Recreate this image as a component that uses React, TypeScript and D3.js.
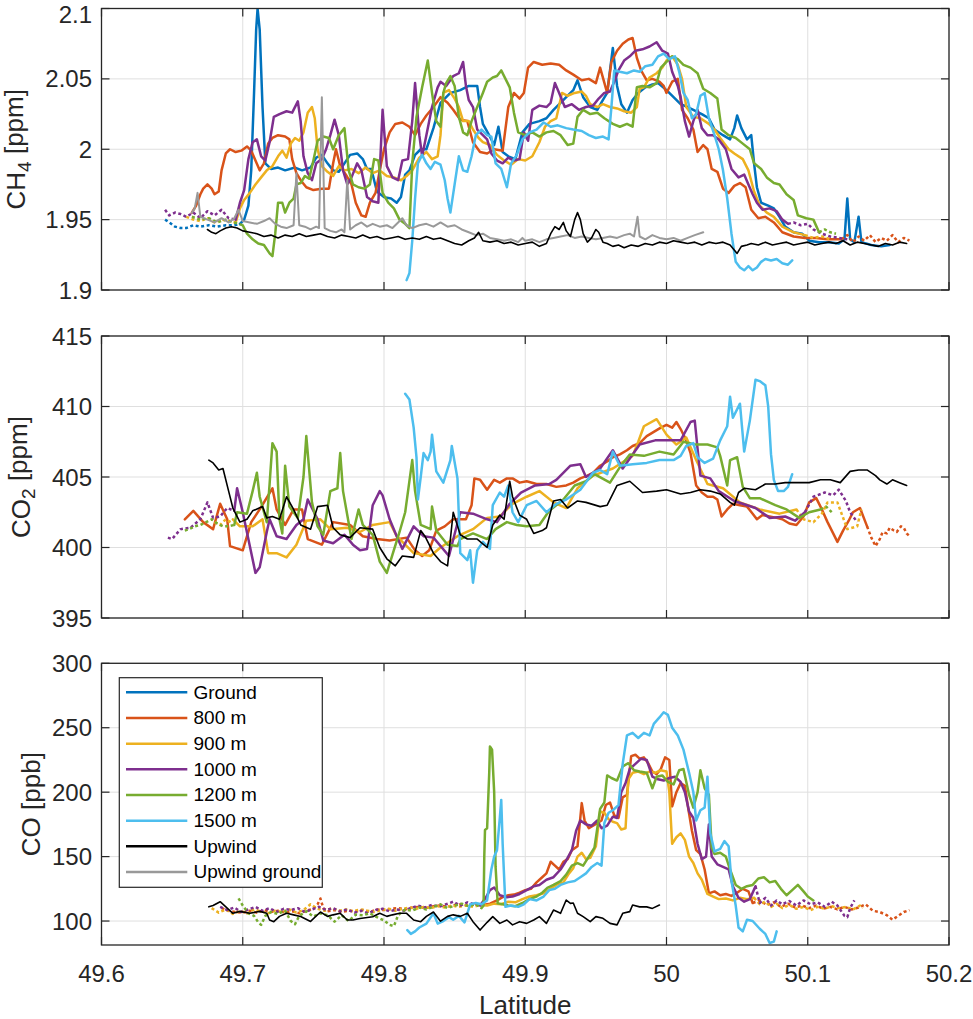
import React from 'react';
import * as d3 from 'd3';

type Pt = [number, number];

const FONT = '"Liberation Sans", Arial, Helvetica, sans-serif';
const INK = '#262626';

const seriesNames = ['Ground', '800 m', '900 m', '1000 m', '1200 m', '1500 m', 'Upwind', 'Upwind ground'];
const seriesColors = ['#0072BD', '#D95319', '#EDB120', '#7E2F8E', '#77AC30', '#4DBEEE', '#000000', '#999999'];

const latTicks = [49.6, 49.7, 49.8, 49.9, 50, 50.1, 50.2];
const ch4Ticks = [1.9, 1.95, 2, 2.05, 2.1];
const co2Ticks = [395, 400, 405, 410, 415];
const coTicks = [100, 150, 200, 250, 300];

// ---------------- CH4 [ppm] ----------------
const ch4GroundDot: Pt[] = [[49.645,1.950],[49.648,1.948],[49.652,1.945],[49.656,1.944],[49.660,1.944],[49.665,1.946],[49.670,1.945],[49.676,1.946],[49.682,1.945],[49.688,1.946],[49.694,1.946],[49.698,1.947]];
const ch4Ground: Pt[] = [[49.698,1.947],[49.701,1.950],[49.704,1.960],[49.706,1.985],[49.708,2.040],[49.7095,2.085],[49.7105,2.100],[49.712,2.085],[49.714,2.030],[49.716,1.990],[49.720,1.986],[49.725,1.987],[49.730,1.985],[49.737,1.987],[49.742,1.985],[49.748,1.987],[49.752,1.994],[49.756,1.996],[49.760,1.990],[49.764,1.985],[49.768,1.984],[49.772,1.990],[49.776,1.996],[49.781,1.997],[49.785,1.993],[49.788,1.986],[49.791,1.986],[49.795,1.970],[49.800,1.966],[49.805,1.965],[49.809,1.962],[49.812,1.966],[49.815,1.982],[49.818,1.985],[49.822,1.996],[49.826,2.000],[49.830,2.000],[49.835,2.015],[49.840,2.033],[49.847,2.040],[49.854,2.042],[49.860,2.045],[49.866,2.045],[49.868,2.030],[49.870,2.018],[49.875,2.009],[49.878,2.003],[49.881,2.016],[49.884,1.998],[49.888,1.995],[49.893,1.993],[49.898,2.012],[49.903,2.018],[49.910,2.020],[49.915,2.022],[49.920,2.028],[49.925,2.033],[49.929,2.037],[49.934,2.042],[49.937,2.049],[49.941,2.037],[49.946,2.030],[49.951,2.028],[49.955,2.035],[49.958,2.040],[49.962,2.072],[49.965,2.045],[49.968,2.032],[49.972,2.026],[49.976,2.035],[49.980,2.040],[49.985,2.044],[49.990,2.046],[49.994,2.047],[50.000,2.042],[50.005,2.037],[50.010,2.032],[50.015,2.030],[50.019,2.028],[50.025,2.025],[50.030,2.022],[50.034,2.014],[50.040,2.010],[50.045,2.007],[50.048,2.015],[50.050,2.024],[50.053,2.015],[50.057,2.007],[50.060,2.010],[50.062,1.990],[50.064,1.973],[50.067,1.962],[50.072,1.960],[50.076,1.958],[50.080,1.952],[50.084,1.945],[50.090,1.941],[50.096,1.940],[50.101,1.935],[50.108,1.934],[50.115,1.934],[50.122,1.933],[50.126,1.936],[50.128,1.965],[50.130,1.936],[50.133,1.934],[50.136,1.952],[50.138,1.934],[50.145,1.932],[50.152,1.931],[50.158,1.932]];
const ch4M800: Pt[] = [[49.664,1.955],[49.667,1.960],[49.670,1.968],[49.672,1.972],[49.675,1.975],[49.678,1.972],[49.680,1.968],[49.683,1.970],[49.685,1.985],[49.688,1.997],[49.691,2.000],[49.695,1.998],[49.699,1.999],[49.703,2.002],[49.706,1.999],[49.709,1.992],[49.712,1.985],[49.715,1.990],[49.718,2.004],[49.721,2.008],[49.725,2.010],[49.730,2.009],[49.733,2.007],[49.735,1.993],[49.738,1.983],[49.741,1.978],[49.745,1.973],[49.750,1.971],[49.756,1.972],[49.761,1.972],[49.764,1.990],[49.766,2.000],[49.769,1.988],[49.773,1.982],[49.777,1.975],[49.780,1.962],[49.784,1.953],[49.787,1.952],[49.790,1.962],[49.794,1.969],[49.797,1.985],[49.800,2.000],[49.804,2.012],[49.808,2.018],[49.813,2.019],[49.818,2.016],[49.822,2.010],[49.826,2.018],[49.830,2.024],[49.835,2.030],[49.840,2.037],[49.845,2.033],[49.849,2.028],[49.854,2.021],[49.859,2.020],[49.863,2.005],[49.868,1.998],[49.873,1.997],[49.878,2.000],[49.884,1.999],[49.888,2.030],[49.892,2.040],[49.896,2.036],[49.899,2.040],[49.902,2.058],[49.906,2.062],[49.912,2.060],[49.918,2.061],[49.924,2.060],[49.929,2.056],[49.934,2.053],[49.940,2.049],[49.945,2.050],[49.950,2.047],[49.953,2.058],[49.958,2.040],[49.961,2.062],[49.965,2.070],[49.969,2.075],[49.973,2.078],[49.976,2.079],[49.979,2.065],[49.982,2.056],[49.986,2.049],[49.990,2.050],[49.995,2.048],[49.998,2.045],[50.000,2.040],[50.004,2.048],[50.008,2.050],[50.011,2.028],[50.015,2.022],[50.019,2.014],[50.022,1.998],[50.026,2.003],[50.029,2.000],[50.032,1.986],[50.036,1.984],[50.040,1.972],[50.044,1.969],[50.048,1.974],[50.052,1.976],[50.056,1.973],[50.060,1.957],[50.065,1.951],[50.070,1.952],[50.076,1.948],[50.082,1.941],[50.090,1.938],[50.098,1.937],[50.106,1.937],[50.114,1.936],[50.124,1.936]];
const ch4M800Dot: Pt[] = [[50.124,1.936],[50.128,1.939],[50.132,1.934],[50.136,1.938],[50.140,1.935],[50.144,1.939],[50.148,1.934],[50.152,1.937],[50.156,1.935],[50.160,1.939],[50.164,1.934],[50.168,1.937],[50.172,1.935]];
const ch4M900Dot: Pt[] = [[49.660,1.952],[49.665,1.950],[49.670,1.949],[49.675,1.951],[49.680,1.948],[49.685,1.950],[49.690,1.949],[49.695,1.948]];
const ch4M900: Pt[] = [[49.695,1.948],[49.698,1.958],[49.701,1.964],[49.705,1.969],[49.709,1.975],[49.713,1.980],[49.717,1.985],[49.721,1.988],[49.725,1.995],[49.728,1.999],[49.731,1.994],[49.734,2.004],[49.737,2.008],[49.740,2.006],[49.743,2.012],[49.746,2.026],[49.749,2.030],[49.751,2.022],[49.753,2.000],[49.756,1.988],[49.760,1.984],[49.764,1.981],[49.768,1.988],[49.772,1.985],[49.777,1.986],[49.782,1.983],[49.787,1.987],[49.792,1.983],[49.797,1.985],[49.802,1.981],[49.807,1.980],[49.812,1.978],[49.816,1.981],[49.820,1.985],[49.825,1.994],[49.830,1.998],[49.834,1.993],[49.838,1.995],[49.840,2.010],[49.842,2.040],[49.846,2.042],[49.850,2.036],[49.853,2.030],[49.856,2.020],[49.860,2.020],[49.863,2.014],[49.867,2.008],[49.870,2.005],[49.875,2.003],[49.880,1.996],[49.885,1.992],[49.890,1.989],[49.895,1.993],[49.900,1.992],[49.905,1.995],[49.910,2.005],[49.914,2.016],[49.918,2.020],[49.922,2.022],[49.926,2.040],[49.930,2.038],[49.935,2.040],[49.940,2.041],[49.943,2.038],[49.946,2.032],[49.951,2.030],[49.955,2.032],[49.960,2.030],[49.965,2.029],[49.970,2.027],[49.975,2.026],[49.979,2.030],[49.981,2.043],[49.984,2.044],[49.988,2.051],[49.993,2.054],[49.997,2.058],[50.000,2.063],[50.004,2.066],[50.008,2.060],[50.011,2.050],[50.014,2.030],[50.019,2.023],[50.024,2.022],[50.030,2.018],[50.034,2.014],[50.038,2.008],[50.044,2.000],[50.048,1.997],[50.054,1.993],[50.058,1.985],[50.062,1.970],[50.066,1.960],[50.071,1.955],[50.076,1.952],[50.082,1.945],[50.090,1.941],[50.098,1.939]];
const ch4M900Dot2: Pt[] = [[50.098,1.939],[50.104,1.937],[50.110,1.938],[50.116,1.936]];
const ch4M1000Dot: Pt[] = [[49.645,1.957],[49.648,1.953],[49.652,1.955],[49.656,1.954],[49.660,1.952],[49.665,1.955],[49.670,1.951],[49.675,1.956],[49.680,1.953],[49.685,1.957],[49.690,1.951],[49.695,1.950]];
const ch4M1000: Pt[] = [[49.695,1.950],[49.698,1.962],[49.701,1.971],[49.704,1.993],[49.707,2.005],[49.710,2.007],[49.713,1.995],[49.716,1.992],[49.719,2.005],[49.722,2.023],[49.726,2.025],[49.731,2.027],[49.735,2.026],[49.739,2.034],[49.741,2.020],[49.743,1.995],[49.746,1.983],[49.749,1.978],[49.752,1.990],[49.756,1.993],[49.759,2.000],[49.762,2.010],[49.765,2.021],[49.768,2.010],[49.771,1.985],[49.774,1.975],[49.777,1.980],[49.781,1.990],[49.784,1.985],[49.788,1.966],[49.792,1.963],[49.796,1.962],[49.799,2.028],[49.802,1.988],[49.806,1.980],[49.810,1.978],[49.813,1.992],[49.817,1.993],[49.820,2.020],[49.822,2.047],[49.825,2.010],[49.827,1.995],[49.830,2.010],[49.834,2.030],[49.838,2.044],[49.840,2.048],[49.844,2.045],[49.849,2.052],[49.853,2.054],[49.856,2.062],[49.858,2.045],[49.860,2.035],[49.863,2.030],[49.866,2.014],[49.870,2.010],[49.873,2.007],[49.876,1.997],[49.880,1.992],[49.884,1.990],[49.888,1.994],[49.892,1.992],[49.896,1.993],[49.899,2.012],[49.902,2.006],[49.905,2.028],[49.910,2.031],[49.915,2.030],[49.918,2.033],[49.921,2.047],[49.924,2.040],[49.928,2.030],[49.933,2.032],[49.938,2.028],[49.943,2.030],[49.948,2.031],[49.952,2.036],[49.956,2.040],[49.960,2.041],[49.963,2.048],[49.966,2.056],[49.970,2.063],[49.974,2.066],[49.978,2.070],[49.983,2.071],[49.988,2.073],[49.993,2.076],[49.997,2.070],[50.001,2.068],[50.004,2.055],[50.008,2.045],[50.010,2.037],[50.013,2.020],[50.016,2.009],[50.019,2.020],[50.022,2.028],[50.025,2.015],[50.029,2.010],[50.033,2.010],[50.037,2.007],[50.042,2.000],[50.046,1.986],[50.051,1.980],[50.055,1.982],[50.058,1.975],[50.061,1.968],[50.064,1.962],[50.068,1.957],[50.073,1.958],[50.078,1.956],[50.082,1.950],[50.086,1.947]];
const ch4M1000Dot2: Pt[] = [[50.086,1.947],[50.090,1.948],[50.095,1.946],[50.100,1.947],[50.104,1.943],[50.110,1.940],[50.116,1.938],[50.122,1.937],[50.128,1.936]];
const ch4M1200Dot: Pt[] = [[49.664,1.952],[49.670,1.950],[49.676,1.951],[49.682,1.948],[49.688,1.950],[49.694,1.948],[49.700,1.946]];
const ch4M1200: Pt[] = [[49.700,1.946],[49.703,1.940],[49.707,1.936],[49.711,1.933],[49.715,1.932],[49.719,1.926],[49.721,1.924],[49.723,1.940],[49.725,1.962],[49.728,1.962],[49.730,1.955],[49.733,1.962],[49.736,1.965],[49.738,1.975],[49.741,1.976],[49.744,1.981],[49.747,1.979],[49.750,1.992],[49.753,2.006],[49.757,2.009],[49.761,2.008],[49.764,2.000],[49.768,2.010],[49.772,2.015],[49.775,1.985],[49.778,1.975],[49.782,1.973],[49.786,1.972],[49.790,1.975],[49.793,1.993],[49.796,1.992],[49.799,1.969],[49.803,1.962],[49.807,1.958],[49.811,1.950],[49.815,1.947],[49.818,1.944],[49.820,1.990],[49.823,2.023],[49.827,2.044],[49.831,2.063],[49.834,2.040],[49.837,2.020],[49.840,2.016],[49.842,2.040],[49.844,2.047],[49.847,2.052],[49.850,2.045],[49.853,2.023],[49.856,2.012],[49.859,2.010],[49.862,2.020],[49.866,2.030],[49.870,2.040],[49.873,2.048],[49.877,2.051],[49.880,2.052],[49.883,2.056],[49.886,2.050],[49.889,2.044],[49.892,2.026],[49.895,2.012],[49.900,2.010],[49.905,2.012],[49.910,2.009],[49.915,2.012],[49.920,2.013],[49.925,2.010],[49.930,2.003],[49.934,2.004],[49.937,2.023],[49.941,2.028],[49.946,2.025],[49.951,2.026],[49.956,2.022],[49.962,2.018],[49.967,2.016],[49.972,2.018],[49.976,2.016],[49.979,2.044],[49.983,2.045],[49.988,2.044],[49.993,2.047],[49.996,2.058],[50.000,2.062],[50.004,2.066],[50.008,2.064],[50.012,2.060],[50.017,2.058],[50.022,2.054],[50.026,2.043],[50.031,2.040],[50.036,2.036],[50.039,2.014],[50.044,2.010],[50.049,2.008],[50.054,2.004],[50.059,2.000],[50.062,1.990],[50.067,1.986],[50.071,1.980],[50.076,1.976],[50.080,1.975],[50.085,1.968],[50.090,1.964],[50.093,1.953],[50.099,1.951],[50.104,1.950],[50.108,1.941]];
const ch4M1200Dot2: Pt[] = [[50.108,1.941],[50.112,1.943],[50.116,1.941],[50.120,1.940]];
const ch4M1500: Pt[] = [[49.816,1.907],[49.818,1.912],[49.820,1.935],[49.822,1.965],[49.824,1.990],[49.827,1.996],[49.830,1.990],[49.833,1.986],[49.836,1.991],[49.840,1.989],[49.843,1.978],[49.845,1.965],[49.847,1.955],[49.850,1.975],[49.853,1.995],[49.856,1.985],[49.859,1.984],[49.862,1.995],[49.865,2.010],[49.869,2.014],[49.873,2.010],[49.876,2.009],[49.879,1.990],[49.883,1.986],[49.887,1.973],[49.890,1.990],[49.894,1.996],[49.898,2.007],[49.903,2.012],[49.908,2.014],[49.913,2.019],[49.918,2.016],[49.923,2.017],[49.929,2.015],[49.934,2.014],[49.940,2.013],[49.945,2.010],[49.950,2.008],[49.955,2.009],[49.959,2.007],[49.961,2.030],[49.963,2.056],[49.967,2.055],[49.972,2.054],[49.977,2.056],[49.981,2.055],[49.985,2.059],[49.990,2.060],[49.994,2.066],[49.998,2.068],[50.002,2.064],[50.006,2.066],[50.009,2.055],[50.012,2.040],[50.015,2.035],[50.018,2.022],[50.021,2.025],[50.024,2.038],[50.027,2.040],[50.030,2.022],[50.034,2.010],[50.037,2.000],[50.040,1.985],[50.043,1.965],[50.046,1.940],[50.049,1.920],[50.052,1.916],[50.055,1.914],[50.058,1.917],[50.061,1.914],[50.064,1.916],[50.067,1.920],[50.070,1.922],[50.074,1.921],[50.078,1.922],[50.082,1.919],[50.086,1.918],[50.089,1.921]];
const ch4Upwind: Pt[] = [[49.675,1.943],[49.678,1.941],[49.681,1.940],[49.684,1.942],[49.688,1.944],[49.692,1.945],[49.696,1.944],[49.700,1.942],[49.705,1.941],[49.710,1.940],[49.715,1.938],[49.720,1.939],[49.725,1.937],[49.730,1.939],[49.735,1.938],[49.740,1.940],[49.745,1.938],[49.750,1.939],[49.755,1.940],[49.760,1.938],[49.765,1.937],[49.770,1.939],[49.775,1.938],[49.780,1.937],[49.785,1.939],[49.790,1.937],[49.795,1.938],[49.800,1.936],[49.805,1.937],[49.810,1.938],[49.815,1.936],[49.820,1.937],[49.825,1.936],[49.830,1.938],[49.835,1.936],[49.840,1.937],[49.845,1.935],[49.850,1.933],[49.855,1.932],[49.860,1.935],[49.864,1.937],[49.867,1.941],[49.870,1.935],[49.875,1.934],[49.880,1.935],[49.885,1.933],[49.890,1.934],[49.895,1.932],[49.900,1.933],[49.905,1.934],[49.910,1.931],[49.915,1.933],[49.918,1.940],[49.921,1.945],[49.924,1.943],[49.927,1.948],[49.929,1.942],[49.932,1.938],[49.935,1.950],[49.937,1.955],[49.939,1.950],[49.941,1.940],[49.944,1.934],[49.947,1.937],[49.950,1.943],[49.952,1.941],[49.955,1.934],[49.958,1.933],[49.962,1.931],[49.966,1.932],[49.970,1.930],[49.975,1.932],[49.980,1.931],[49.985,1.933],[49.990,1.932],[49.995,1.934],[50.000,1.933],[50.005,1.935],[50.010,1.934],[50.015,1.933],[50.020,1.934],[50.025,1.932],[50.030,1.934],[50.035,1.933],[50.040,1.934],[50.045,1.932],[50.050,1.926],[50.053,1.931],[50.057,1.932],[50.060,1.933],[50.065,1.932],[50.070,1.934],[50.075,1.932],[50.080,1.933],[50.085,1.934],[50.090,1.932],[50.095,1.933],[50.100,1.934],[50.105,1.932],[50.110,1.933],[50.115,1.934],[50.120,1.933],[50.125,1.935],[50.130,1.932],[50.135,1.934],[50.140,1.933],[50.145,1.932],[50.150,1.931],[50.155,1.933],[50.160,1.932],[50.165,1.934],[50.170,1.933]];
const ch4UpwindGround: Pt[] = [[49.664,1.955],[49.666,1.958],[49.668,1.969],[49.670,1.952],[49.675,1.950],[49.680,1.948],[49.685,1.951],[49.690,1.948],[49.694,1.951],[49.697,1.957],[49.700,1.949],[49.705,1.948],[49.710,1.947],[49.715,1.949],[49.719,1.951],[49.723,1.947],[49.727,1.945],[49.731,1.944],[49.736,1.946],[49.738,1.983],[49.740,1.946],[49.744,1.945],[49.748,1.943],[49.752,1.945],[49.754,1.944],[49.756,2.037],[49.758,1.944],[49.762,1.942],[49.766,1.941],[49.770,1.943],[49.772,1.941],[49.774,1.978],[49.776,1.943],[49.780,1.946],[49.784,1.948],[49.788,1.945],[49.792,1.947],[49.797,1.945],[49.802,1.946],[49.806,1.944],[49.810,1.948],[49.813,1.951],[49.816,1.946],[49.820,1.944],[49.825,1.946],[49.830,1.947],[49.835,1.945],[49.840,1.948],[49.845,1.945],[49.850,1.946],[49.855,1.943],[49.860,1.941],[49.865,1.939],[49.870,1.940],[49.875,1.937],[49.880,1.936],[49.885,1.935],[49.890,1.936],[49.895,1.934],[49.898,1.937],[49.900,1.935],[49.905,1.936],[49.910,1.934],[49.915,1.936],[49.920,1.937],[49.925,1.938],[49.930,1.939],[49.935,1.937],[49.940,1.938],[49.945,1.937],[49.950,1.936],[49.955,1.937],[49.960,1.938],[49.965,1.937],[49.970,1.939],[49.974,1.940],[49.977,1.938],[49.9795,1.952],[49.981,1.938],[49.985,1.936],[49.990,1.939],[49.995,1.937],[50.000,1.936],[50.005,1.937],[50.010,1.935],[50.015,1.937],[50.020,1.939],[50.026,1.941]];

// ---------------- CO2 [ppm] ----------------
const co2M800: Pt[] = [[49.659,402.0],[49.665,402.6],[49.672,401.8],[49.679,401.3],[49.684,403.1],[49.689,402.0],[49.691,400.1],[49.700,399.8],[49.706,401.8],[49.712,402.7],[49.721,404.2],[49.724,402.7],[49.730,401.6],[49.736,402.7],[49.742,402.7],[49.746,400.6],[49.756,400.2],[49.764,401.8],[49.776,401.6],[49.785,400.8],[49.795,400.6],[49.804,400.5],[49.816,400.7],[49.822,399.8],[49.827,399.4],[49.832,399.8],[49.837,401.2],[49.843,401.5],[49.849,402.0],[49.858,402.0],[49.862,403.0],[49.864,404.9],[49.868,404.8],[49.873,404.1],[49.878,404.8],[49.882,404.6],[49.887,404.9],[49.891,404.9],[49.896,404.6],[49.901,404.7],[49.908,404.5],[49.915,404.5],[49.922,404.3],[49.929,404.4],[49.934,404.6],[49.939,404.9],[49.944,405.1],[49.948,405.3],[49.953,405.8],[49.958,406.1],[49.962,406.4],[49.967,406.6],[49.972,406.9],[49.976,407.2],[49.981,407.4],[49.986,407.9],[49.991,408.2],[49.996,408.5],[50.000,408.7],[50.004,408.5],[50.007,408.9],[50.010,408.4],[50.014,407.6],[50.017,406.7],[50.021,404.4],[50.025,403.9],[50.029,403.6],[50.033,403.6],[50.036,403.4],[50.039,402.2],[50.043,402.7],[50.047,403.1],[50.052,403.0],[50.057,402.9],[50.061,402.4],[50.064,402.0],[50.068,402.3],[50.073,402.2],[50.078,402.1],[50.082,402.0],[50.087,401.7],[50.092,401.6],[50.097,402.2],[50.101,403.2],[50.106,403.5],[50.110,402.7],[50.114,401.8],[50.118,401.0],[50.121,400.4],[50.125,401.2],[50.129,401.9],[50.132,402.5],[50.137,402.8],[50.142,401.5]];
const co2M800Dot: Pt[] = [[50.142,401.5],[50.145,400.7],[50.148,400.1],[50.151,400.6],[50.153,401.1],[50.156,401.0],[50.158,401.4],[50.161,401.2],[50.163,401.1],[50.166,401.5],[50.168,401.4],[50.170,401.0],[50.172,400.8]];
const co2M900Dot: Pt[] = [[49.680,401.8],[49.684,401.6],[49.688,402.0],[49.693,401.7]];
const co2M900: Pt[] = [[49.693,402.0],[49.698,401.5],[49.707,401.5],[49.714,402.0],[49.718,399.6],[49.724,399.6],[49.731,399.3],[49.738,400.2],[49.745,401.9],[49.755,402.0],[49.762,401.3],[49.774,401.4],[49.783,401.1],[49.792,401.6],[49.804,401.8],[49.809,400.8],[49.821,399.6],[49.833,399.4],[49.840,400.0],[49.852,400.8],[49.863,401.3],[49.873,402.1],[49.882,402.2],[49.891,403.1],[49.901,403.6],[49.910,404.0],[49.920,403.2],[49.929,402.8],[49.937,404.2],[49.948,405.1],[49.962,405.6],[49.976,406.5],[49.980,407.5],[49.984,408.6],[49.993,409.1],[50.000,408.0],[50.007,407.3],[50.014,407.8],[50.021,406.2],[50.029,404.5],[50.040,404.2],[50.052,403.2],[50.066,402.7],[50.080,402.4],[50.092,402.7]];
const co2M900Dot2: Pt[] = [[50.092,402.7],[50.097,402.0],[50.104,401.8],[50.110,402.4],[50.114,403.2],[50.121,403.2],[50.128,401.3],[50.135,401.5],[50.138,402.7]];
const co2M1000Dot: Pt[] = [[49.647,400.7],[49.650,400.6],[49.656,401.3],[49.663,401.4],[49.670,402.0],[49.675,403.2],[49.679,402.1],[49.684,402.2],[49.689,402.8],[49.694,402.6]];
const co2M1000: Pt[] = [[49.694,402.6],[49.696,404.2],[49.700,402.5],[49.705,400.1],[49.709,398.2],[49.712,398.6],[49.717,401.1],[49.719,402.0],[49.724,400.8],[49.731,400.6],[49.738,401.6],[49.743,402.0],[49.746,403.4],[49.753,402.0],[49.757,400.5],[49.764,400.3],[49.772,400.9],[49.778,400.2],[49.783,399.8],[49.788,399.9],[49.792,403.0],[49.797,404.0],[49.799,403.7],[49.804,402.0],[49.809,400.8],[49.813,399.9],[49.821,401.5],[49.828,400.8],[49.835,400.7],[49.846,399.4],[49.854,402.5],[49.863,402.4],[49.873,402.0],[49.880,401.8],[49.889,403.1],[49.897,403.9],[49.907,404.4],[49.917,404.5],[49.922,404.8],[49.932,405.8],[49.939,405.9],[49.943,405.0],[49.953,405.6],[49.962,406.9],[49.969,405.6],[49.981,407.3],[49.992,407.6],[50.000,407.6],[50.010,407.6],[50.017,408.9],[50.020,409.0],[50.022,407.0],[50.024,405.1],[50.031,404.9],[50.037,404.0],[50.048,403.3],[50.063,402.8],[50.073,402.1],[50.084,402.2],[50.091,401.9],[50.098,402.5]];
const co2M1000Dot2: Pt[] = [[50.098,402.5],[50.104,403.6],[50.112,403.9],[50.118,403.7],[50.122,404.1],[50.127,403.3],[50.130,402.5],[50.135,401.8]];
const co2M1200Dot: Pt[] = [[49.659,401.2],[49.662,401.3],[49.666,401.5],[49.670,401.6],[49.674,401.8],[49.678,402.0],[49.682,401.7],[49.686,401.5],[49.690,401.5],[49.694,401.6]];
const co2M1200: Pt[] = [[49.694,401.6],[49.696,402.5],[49.703,402.4],[49.707,404.0],[49.710,405.3],[49.712,403.6],[49.717,401.8],[49.719,404.5],[49.721,407.4],[49.724,406.8],[49.726,402.0],[49.728,401.0],[49.730,405.8],[49.733,402.9],[49.739,402.1],[49.743,405.0],[49.745,407.9],[49.749,403.2],[49.753,401.5],[49.757,400.9],[49.762,404.0],[49.767,404.2],[49.769,406.7],[49.771,404.0],[49.777,400.6],[49.782,402.7],[49.785,401.6],[49.792,400.9],[49.797,399.0],[49.802,398.2],[49.806,399.5],[49.811,401.1],[49.815,402.5],[49.820,406.2],[49.822,404.0],[49.826,401.6],[49.833,401.3],[49.834,402.9],[49.837,401.2],[49.845,400.2],[49.852,400.1],[49.854,400.6],[49.863,401.0],[49.873,400.6],[49.879,401.3],[49.887,401.8],[49.894,401.6],[49.901,401.5],[49.910,401.6],[49.917,402.6],[49.927,403.4],[49.935,404.4],[49.943,404.7],[49.949,405.2],[49.960,404.6],[49.967,405.7],[49.974,406.6],[49.984,406.5],[49.995,406.8],[50.005,406.6],[50.012,407.5],[50.020,407.3],[50.029,407.3],[50.036,407.1],[50.038,406.5],[50.043,404.4],[50.045,406.2],[50.050,406.4],[50.054,404.3],[50.059,403.5],[50.066,403.5],[50.077,403.0],[50.085,402.7],[50.094,402.1],[50.101,402.5],[50.109,402.7]];
const co2M1200Dot2: Pt[] = [[50.109,402.7],[50.113,402.9],[50.117,402.5]];
const co2M1500: Pt[] = [[49.815,410.9],[49.818,410.5],[49.821,408.5],[49.823,406.4],[49.824,403.4],[49.826,405.0],[49.828,406.7],[49.831,406.2],[49.833,406.8],[49.834,408.0],[49.837,405.4],[49.842,404.6],[49.847,406.2],[49.848,407.2],[49.852,404.9],[49.854,399.6],[49.859,399.1],[49.861,399.8],[49.863,397.5],[49.866,399.8],[49.870,400.4],[49.875,399.9],[49.877,403.0],[49.882,403.9],[49.885,403.6],[49.888,404.4],[49.891,402.5],[49.895,401.8],[49.901,403.0],[49.908,403.3],[49.915,402.5],[49.922,403.1],[49.929,403.4],[49.939,404.1],[49.948,405.3],[49.953,405.5],[49.958,405.2],[49.962,406.8],[49.967,405.8],[49.976,405.9],[49.986,406.0],[49.995,406.2],[50.005,406.2],[50.010,406.5],[50.014,407.2],[50.019,407.4],[50.022,406.4],[50.027,406.0],[50.033,406.3],[50.038,407.6],[50.043,408.6],[50.045,410.7],[50.047,409.2],[50.052,410.2],[50.055,406.8],[50.059,409.0],[50.063,411.9],[50.066,411.8],[50.070,411.5],[50.072,410.0],[50.074,406.6],[50.076,404.8],[50.079,404.0],[50.083,404.0],[50.086,404.3],[50.089,405.2]];
const co2Upwind: Pt[] = [[49.676,406.2],[49.679,406.0],[49.683,405.5],[49.686,405.6],[49.690,404.0],[49.693,402.8],[49.698,401.8],[49.703,402.0],[49.707,402.6],[49.714,402.9],[49.717,402.1],[49.721,402.2],[49.726,402.0],[49.731,403.6],[49.736,402.7],[49.741,401.6],[49.748,401.3],[49.753,402.9],[49.760,403.0],[49.764,401.4],[49.769,400.9],[49.776,400.7],[49.783,401.4],[49.792,401.3],[49.797,400.0],[49.802,399.2],[49.808,398.7],[49.813,399.4],[49.821,399.3],[49.826,401.2],[49.829,400.8],[49.835,399.6],[49.840,399.0],[49.845,398.7],[49.849,402.5],[49.854,400.9],[49.859,400.6],[49.866,400.6],[49.873,400.0],[49.877,401.6],[49.882,402.3],[49.885,402.0],[49.889,404.7],[49.891,403.6],[49.896,402.3],[49.901,402.0],[49.906,401.0],[49.912,401.2],[49.915,401.4],[49.920,403.3],[49.925,403.4],[49.930,402.8],[49.937,403.3],[49.943,403.2],[49.953,402.9],[49.958,403.0],[49.965,404.4],[49.974,404.7],[49.983,403.9],[49.993,404.0],[50.000,404.1],[50.010,403.8],[50.017,403.9],[50.024,404.1],[50.031,404.0],[50.038,403.8],[50.045,403.2],[50.048,403.0],[50.051,403.9],[50.055,404.2],[50.063,404.1],[50.070,404.5],[50.077,404.5],[50.084,404.6],[50.092,404.6],[50.101,404.6],[50.109,404.8],[50.116,404.8],[50.123,404.6],[50.130,405.4],[50.136,405.5],[50.142,405.5],[50.148,405.1],[50.151,404.8],[50.156,404.5],[50.160,404.8],[50.165,404.6],[50.170,404.4]];

// ---------------- CO [ppb] ----------------
const coM800Dot: Pt[] = [[49.685,110.0],[49.690,108.0],[49.695,107.0],[49.700,106.5],[49.705,108.0],[49.710,106.5],[49.715,108.5],[49.720,107.0],[49.725,108.0],[49.730,106.5],[49.735,107.5],[49.740,106.0],[49.745,108.0],[49.750,109.5],[49.753,113.0],[49.755,117.5],[49.757,110.0],[49.760,107.5],[49.765,108.5],[49.770,107.0],[49.775,108.0],[49.780,107.5],[49.785,108.5],[49.790,107.0],[49.795,109.0],[49.800,108.5],[49.805,109.5],[49.810,110.0],[49.815,109.0],[49.820,110.5],[49.825,111.0],[49.830,110.0],[49.835,111.5],[49.840,112.0],[49.845,111.0],[49.850,112.5],[49.855,113.0],[49.860,112.0],[49.865,113.0]];
const coM800: Pt[] = [[49.865,113.0],[49.870,112.5],[49.875,113.5],[49.880,116.0],[49.884,118.5],[49.888,120.0],[49.892,120.5],[49.896,122.0],[49.900,124.0],[49.904,125.0],[49.908,130.0],[49.912,134.0],[49.915,137.0],[49.918,146.0],[49.921,143.0],[49.924,140.0],[49.927,146.0],[49.930,148.0],[49.933,155.0],[49.937,158.0],[49.940,191.5],[49.942,178.0],[49.945,172.0],[49.948,174.0],[49.951,176.0],[49.954,178.0],[49.957,190.0],[49.960,192.0],[49.963,182.0],[49.966,180.0],[49.969,196.0],[49.972,198.0],[49.975,228.0],[49.978,229.0],[49.981,226.0],[49.984,227.0],[49.987,222.5],[49.990,216.0],[49.993,214.0],[49.996,218.0],[49.999,227.0],[50.002,225.0],[50.004,189.0],[50.007,200.0],[50.010,207.0],[50.013,205.0],[50.015,190.0],[50.018,170.0],[50.021,155.0],[50.024,152.0],[50.027,140.0],[50.030,121.5],[50.034,123.0],[50.038,120.0],[50.042,121.0],[50.046,119.5],[50.050,122.0],[50.054,125.0],[50.058,123.0],[50.061,114.0]];
const coM800Dot2: Pt[] = [[50.061,114.0],[50.066,116.0],[50.071,112.5],[50.076,114.5],[50.081,111.0],[50.086,113.5],[50.091,110.5],[50.096,112.0],[50.101,110.0],[50.106,112.0],[50.111,109.5],[50.116,111.0],[50.121,109.0],[50.126,111.0],[50.131,109.0],[50.136,110.5],[50.141,113.0],[50.146,108.0],[50.151,107.0],[50.156,104.5],[50.160,101.0],[50.164,104.0],[50.168,107.0],[50.172,108.5]];
const coM900Dot: Pt[] = [[49.678,110.0],[49.683,106.5],[49.688,109.0],[49.693,105.5],[49.698,108.0],[49.703,106.0],[49.708,109.0],[49.713,107.5],[49.718,106.0],[49.723,108.0],[49.728,107.0],[49.733,109.0],[49.738,106.5],[49.743,108.5],[49.748,113.0],[49.753,109.5],[49.758,108.0],[49.763,110.0],[49.768,108.0],[49.773,109.0],[49.778,107.5],[49.783,109.0],[49.788,108.0],[49.793,107.0],[49.798,108.5],[49.803,109.5],[49.808,108.0],[49.813,109.5],[49.818,110.5],[49.823,109.5],[49.828,111.0],[49.833,110.0],[49.838,111.5],[49.843,110.5],[49.848,112.0],[49.853,111.0],[49.858,112.0],[49.863,111.0],[49.868,112.5]];
const coM900: Pt[] = [[49.868,112.5],[49.873,112.0],[49.878,113.5],[49.883,113.0],[49.888,115.0],[49.893,114.5],[49.898,117.0],[49.903,119.0],[49.908,120.0],[49.913,121.5],[49.918,125.0],[49.922,128.0],[49.927,130.0],[49.931,137.0],[49.934,141.0],[49.937,150.0],[49.940,153.0],[49.943,148.0],[49.946,149.0],[49.950,158.0],[49.953,185.0],[49.956,184.0],[49.959,179.0],[49.962,177.0],[49.965,176.0],[49.968,171.0],[49.971,172.0],[49.973,210.0],[49.976,215.0],[49.980,216.0],[49.984,214.0],[49.988,216.0],[49.992,215.0],[49.996,217.0],[50.000,216.0],[50.002,200.0],[50.004,160.0],[50.007,165.0],[50.010,168.0],[50.013,163.0],[50.016,150.0],[50.019,145.0],[50.022,137.0],[50.025,132.0],[50.029,121.0],[50.033,119.0],[50.037,117.0],[50.042,117.5],[50.047,116.0],[50.052,118.0],[50.057,117.0],[50.062,118.0]];
const coM900Dot2: Pt[] = [[50.062,118.0],[50.066,113.0],[50.070,115.0],[50.074,111.0],[50.078,113.5],[50.082,110.0],[50.087,112.5],[50.092,109.5],[50.097,111.0],[50.102,108.5],[50.107,111.0],[50.112,109.5],[50.117,111.5],[50.122,110.0],[50.127,111.0],[50.132,109.0],[50.137,112.0],[50.139,110.0]];
const coM1000Dot: Pt[] = [[49.684,111.0],[49.689,108.5],[49.694,110.5],[49.699,107.0],[49.704,109.0],[49.709,111.0],[49.714,108.0],[49.719,110.0],[49.724,107.0],[49.729,109.5],[49.734,108.5],[49.739,110.0],[49.744,107.0],[49.749,109.0],[49.754,111.0],[49.759,108.5],[49.764,110.0],[49.769,107.5],[49.774,109.0],[49.779,106.5],[49.784,108.0],[49.789,106.0],[49.794,108.5],[49.799,109.5],[49.804,107.5],[49.809,109.0],[49.814,108.0],[49.819,110.0],[49.824,112.0],[49.829,110.5],[49.834,112.5],[49.839,111.0],[49.844,113.0],[49.849,115.0],[49.854,112.0],[49.859,114.5],[49.864,113.0],[49.868,112.0]];
const coM1000: Pt[] = [[49.868,112.0],[49.872,118.0],[49.875,124.0],[49.878,126.0],[49.882,120.0],[49.887,118.5],[49.891,119.0],[49.896,121.0],[49.901,124.0],[49.906,127.0],[49.910,128.0],[49.915,132.0],[49.920,134.0],[49.925,140.0],[49.929,147.0],[49.933,155.0],[49.936,170.0],[49.939,178.0],[49.943,175.0],[49.947,174.0],[49.951,178.0],[49.954,172.0],[49.958,174.0],[49.962,181.0],[49.965,180.0],[49.968,200.0],[49.971,207.0],[49.974,218.0],[49.978,222.0],[49.982,226.0],[49.986,225.0],[49.990,212.0],[49.994,210.0],[49.998,209.0],[50.002,211.0],[50.006,212.0],[50.010,208.0],[50.013,200.0],[50.016,185.0],[50.019,180.0],[50.022,160.0],[50.025,148.0],[50.028,150.0],[50.030,175.0],[50.032,150.0],[50.036,144.0],[50.040,142.0],[50.044,140.0],[50.047,127.0],[50.051,118.0],[50.055,115.0],[50.059,117.0],[50.063,127.0]];
const coM1000Dot2: Pt[] = [[50.063,127.0],[50.066,114.0],[50.070,118.0],[50.074,112.0],[50.078,116.0],[50.082,113.0],[50.087,115.5],[50.092,112.0],[50.097,116.0],[50.102,113.0],[50.107,114.5],[50.112,111.0],[50.117,115.0],[50.121,112.0],[50.126,104.0],[50.128,103.0],[50.130,110.0],[50.133,116.0]];
const coM1200Dot: Pt[] = [[49.697,117.6],[49.700,112.0],[49.704,106.0],[49.708,104.0],[49.711,99.0],[49.713,97.0],[49.716,104.0],[49.720,107.0],[49.725,105.5],[49.730,108.0],[49.734,100.0],[49.737,97.5],[49.740,104.0],[49.745,107.5],[49.750,103.5],[49.755,106.0],[49.760,104.5],[49.765,99.5],[49.770,104.5],[49.775,100.0],[49.780,105.0],[49.785,104.5],[49.790,106.0],[49.795,103.0],[49.800,100.5],[49.804,97.0],[49.807,96.0],[49.810,104.5],[49.815,109.0],[49.820,108.0],[49.825,110.5],[49.830,109.0],[49.835,111.0],[49.840,113.0],[49.845,110.0],[49.850,112.0],[49.855,113.5],[49.860,111.5],[49.865,113.0],[49.869,110.0]];
const coM1200: Pt[] = [[49.869,110.0],[49.8705,112.0],[49.871,150.0],[49.8715,170.7],[49.873,172.0],[49.8745,215.0],[49.875,235.5],[49.8765,233.0],[49.878,200.0],[49.879,142.0],[49.8805,113.7],[49.884,113.0],[49.888,112.0],[49.893,111.5],[49.898,114.0],[49.903,117.0],[49.908,119.0],[49.912,122.0],[49.916,126.0],[49.920,128.0],[49.925,131.0],[49.929,136.0],[49.933,143.0],[49.937,145.0],[49.941,143.0],[49.945,150.0],[49.949,157.0],[49.953,187.0],[49.956,192.0],[49.958,213.0],[49.961,211.0],[49.965,209.0],[49.969,220.0],[49.973,222.5],[49.977,217.0],[49.981,216.0],[49.986,215.0],[49.990,203.0],[49.993,212.0],[49.997,213.0],[50.001,208.0],[50.005,206.0],[50.009,217.0],[50.012,218.0],[50.016,198.0],[50.019,188.0],[50.022,200.0],[50.024,217.0],[50.027,203.0],[50.030,198.0],[50.032,157.0],[50.034,152.0],[50.038,153.0],[50.042,150.0],[50.045,140.0],[50.049,128.0],[50.053,125.0],[50.057,127.0],[50.061,128.0],[50.065,133.0],[50.069,134.0],[50.073,130.0],[50.077,131.0],[50.081,125.0],[50.085,120.0],[50.089,124.0],[50.093,128.0],[50.097,123.0],[50.100,119.0],[50.104,116.0]];
const coM1500: Pt[] = [[49.8165,93.0],[49.819,90.0],[49.822,92.0],[49.825,95.0],[49.830,98.0],[49.835,106.0],[49.838,98.0],[49.842,100.0],[49.846,103.0],[49.849,101.0],[49.853,104.0],[49.857,99.0],[49.861,113.0],[49.865,114.0],[49.869,113.0],[49.873,116.0],[49.876,140.0],[49.878,150.0],[49.880,155.0],[49.882,180.0],[49.883,194.0],[49.884,160.0],[49.886,111.0],[49.890,112.0],[49.895,111.0],[49.899,113.0],[49.903,117.0],[49.908,116.0],[49.913,119.0],[49.917,124.0],[49.921,125.0],[49.925,128.0],[49.930,130.0],[49.935,131.0],[49.939,134.0],[49.943,137.0],[49.947,142.0],[49.951,145.0],[49.954,143.0],[49.956,176.0],[49.959,184.0],[49.962,186.0],[49.966,190.0],[49.969,222.0],[49.972,244.0],[49.976,246.0],[49.980,242.0],[49.984,246.0],[49.988,244.0],[49.991,253.0],[49.995,258.0],[49.998,262.0],[50.001,260.0],[50.004,250.0],[50.008,244.0],[50.012,233.0],[50.016,215.0],[50.019,200.0],[50.021,178.0],[50.024,186.0],[50.027,188.0],[50.029,212.0],[50.031,168.0],[50.034,154.0],[50.038,156.0],[50.041,162.0],[50.044,158.0],[50.046,131.0],[50.049,112.0],[50.051,95.0],[50.054,92.0],[50.057,101.0],[50.061,100.0],[50.066,94.0],[50.070,90.0],[50.073,83.0],[50.076,84.0],[50.078,92.0]];
const coUpwind: Pt[] = [[49.676,111.0],[49.679,112.0],[49.684,115.0],[49.689,110.0],[49.693,106.0],[49.698,107.5],[49.705,106.0],[49.712,107.5],[49.717,106.0],[49.719,100.8],[49.722,99.5],[49.726,103.6],[49.731,106.0],[49.736,104.8],[49.741,103.5],[49.748,99.7],[49.755,107.0],[49.760,103.6],[49.764,104.8],[49.769,106.0],[49.774,100.8],[49.778,100.8],[49.783,102.0],[49.792,103.3],[49.797,106.0],[49.802,103.6],[49.806,104.8],[49.811,106.0],[49.816,106.0],[49.821,100.8],[49.826,99.5],[49.830,103.6],[49.835,107.0],[49.840,99.9],[49.845,103.6],[49.849,104.8],[49.854,103.6],[49.859,106.0],[49.863,99.5],[49.868,93.0],[49.873,99.0],[49.877,103.4],[49.882,98.2],[49.887,100.8],[49.891,97.0],[49.896,99.5],[49.901,98.2],[49.906,100.8],[49.910,103.4],[49.915,98.2],[49.920,108.5],[49.925,106.0],[49.929,116.3],[49.932,113.7],[49.934,114.0],[49.937,106.0],[49.941,103.4],[49.946,99.5],[49.950,103.4],[49.955,102.1],[49.960,98.2],[49.965,97.0],[49.969,106.0],[49.974,107.3],[49.976,112.4],[49.981,111.0],[49.986,111.0],[49.990,109.8],[49.995,112.4]];

interface Trace { s: number; dotted?: boolean; data: Pt[] }

const ch4Traces: Trace[] = [
  { s: 0, dotted: true, data: ch4GroundDot }, { s: 0, data: ch4Ground },
  { s: 1, data: ch4M800 }, { s: 1, dotted: true, data: ch4M800Dot },
  { s: 2, dotted: true, data: ch4M900Dot }, { s: 2, data: ch4M900 }, { s: 2, dotted: true, data: ch4M900Dot2 },
  { s: 3, dotted: true, data: ch4M1000Dot }, { s: 3, data: ch4M1000 }, { s: 3, dotted: true, data: ch4M1000Dot2 },
  { s: 4, dotted: true, data: ch4M1200Dot }, { s: 4, data: ch4M1200 }, { s: 4, dotted: true, data: ch4M1200Dot2 },
  { s: 5, data: ch4M1500 },
  { s: 7, data: ch4UpwindGround },
  { s: 6, data: ch4Upwind },
];
const co2Traces: Trace[] = [
  { s: 1, data: co2M800 }, { s: 1, dotted: true, data: co2M800Dot },
  { s: 2, dotted: true, data: co2M900Dot }, { s: 2, data: co2M900 }, { s: 2, dotted: true, data: co2M900Dot2 },
  { s: 3, dotted: true, data: co2M1000Dot }, { s: 3, data: co2M1000 }, { s: 3, dotted: true, data: co2M1000Dot2 },
  { s: 4, dotted: true, data: co2M1200Dot }, { s: 4, data: co2M1200 }, { s: 4, dotted: true, data: co2M1200Dot2 },
  { s: 5, data: co2M1500 },
  { s: 6, data: co2Upwind },
];
const coTraces: Trace[] = [
  { s: 1, dotted: true, data: coM800Dot }, { s: 1, data: coM800 }, { s: 1, dotted: true, data: coM800Dot2 },
  { s: 2, dotted: true, data: coM900Dot }, { s: 2, data: coM900 }, { s: 2, dotted: true, data: coM900Dot2 },
  { s: 3, dotted: true, data: coM1000Dot }, { s: 3, data: coM1000 }, { s: 3, dotted: true, data: coM1000Dot2 },
  { s: 4, dotted: true, data: coM1200Dot }, { s: 4, data: coM1200 },
  { s: 5, data: coM1500 },
  { s: 6, data: coUpwind },
];

const LEFT = 101.5, RIGHT = 949;

const panels = [
  { key: 'ch4', top: 8.5, bottom: 290, domain: [1.9, 2.1], ticks: ch4Ticks, traces: ch4Traces, lab: ['CH', '4', ' [ppm]'], labX: 25 },
  { key: 'co2', top: 336, bottom: 618, domain: [395, 415], ticks: co2Ticks, traces: co2Traces, lab: ['CO', '2', ' [ppm]'], labX: 29.5 },
  { key: 'co', top: 663.3, bottom: 945, domain: [81.4, 300], ticks: coTicks, traces: coTraces, lab: ['CO', '', ' [ppb]'], labX: 40 },
];

const x = d3.scaleLinear().domain([49.6, 50.2]).range([LEFT, RIGHT]);

function strokeW(s: number) { return s === 6 ? 1.6 : s === 7 ? 2.0 : 2.5; }

export default function App() {
  return (
    <svg width={973} height={1019} style={{ position: 'absolute', left: 0, top: 0, background: '#fff' }} fontFamily={FONT}>
      <rect x={0} y={0} width={973} height={1019} fill="#fff" />
      {panels.map((p, pi) => {
        const y = d3.scaleLinear().domain(p.domain).range([p.bottom, p.top]);
        const line = d3.line<Pt>().x(d => x(d[0])).y(d => y(d[1]));
        const clipId = `clip-${p.key}`;
        const last = pi === panels.length - 1;
        return (
          <g key={p.key}>
            <defs>
              <clipPath id={clipId}>
                <rect x={LEFT} y={p.top} width={RIGHT - LEFT} height={p.bottom - p.top} />
              </clipPath>
            </defs>
            {latTicks.map(t => (
              <line key={'gx' + t} x1={x(t)} x2={x(t)} y1={p.top} y2={p.bottom} stroke="#dfdfdf" strokeWidth={1} />
            ))}
            {p.ticks.map(t => (
              <line key={'gy' + t} x1={LEFT} x2={RIGHT} y1={y(t)} y2={y(t)} stroke="#dfdfdf" strokeWidth={1} />
            ))}
            <g clipPath={`url(#${clipId})`}>
              {p.traces.map((t, i) => (
                <path key={i} d={line(t.data) || ''} fill="none" stroke={seriesColors[t.s]} strokeWidth={strokeW(t.s)}
                  strokeDasharray={t.dotted ? '3 2.6' : undefined} strokeLinejoin="round" strokeLinecap={t.dotted ? 'butt' : 'round'} />
              ))}
            </g>
            {latTicks.map(t => (
              <g key={'tx' + t}>
                <line x1={x(t)} x2={x(t)} y1={p.bottom} y2={p.bottom - 8} stroke={INK} strokeWidth={1.2} />
                <line x1={x(t)} x2={x(t)} y1={p.top} y2={p.top + 8} stroke={INK} strokeWidth={1.2} />
              </g>
            ))}
            {p.ticks.map(t => (
              <g key={'ty' + t}>
                <line x1={LEFT} x2={LEFT + 8} y1={y(t)} y2={y(t)} stroke={INK} strokeWidth={1.2} />
                <line x1={RIGHT} x2={RIGHT - 8} y1={y(t)} y2={y(t)} stroke={INK} strokeWidth={1.2} />
                <text x={92} y={Math.max(y(t), 14.5)} textAnchor="end" dominantBaseline="central" fontSize={24} fill={INK}>{String(t)}</text>
              </g>
            ))}
            <rect x={LEFT} y={p.top} width={RIGHT - LEFT} height={p.bottom - p.top} fill="none" stroke={INK} strokeWidth={1.3} />
            <text transform={`translate(${p.labX},${(p.top + p.bottom) / 2}) rotate(-90)`} textAnchor="middle" fontSize={26} fill={INK}>
              {p.lab[0]}
              {p.lab[1] ? <tspan dy="0.3em" fontSize={19}>{p.lab[1]}</tspan> : null}
              {p.lab[1] ? <tspan dy="-0.3em">{p.lab[2]}</tspan> : <tspan>{p.lab[2]}</tspan>}
            </text>
            {last && latTicks.map(t => (
              <text key={'lx' + t} x={x(t)} y={982} textAnchor="middle" fontSize={24} fill={INK}>{String(t)}</text>
            ))}
          </g>
        );
      })}
      <text x={(LEFT + RIGHT) / 2} y={1014} textAnchor="middle" fontSize={26} fill={INK}>Latitude</text>
      <g>
        <rect x={119.3} y={677.7} width={203} height={209.6} fill="#fff" stroke={INK} strokeWidth={1.2} />
        {seriesNames.map((n, i) => {
          const ly = 692.3 + i * 25.67;
          return (
            <g key={n}>
              <line x1={126} x2={187.3} y1={ly} y2={ly} stroke={seriesColors[i]} strokeWidth={2.5} />
              <text x={193.5} y={ly} dominantBaseline="central" fontSize={19} fill="#000">{n}</text>
            </g>
          );
        })}
      </g>
    </svg>
  );
}
